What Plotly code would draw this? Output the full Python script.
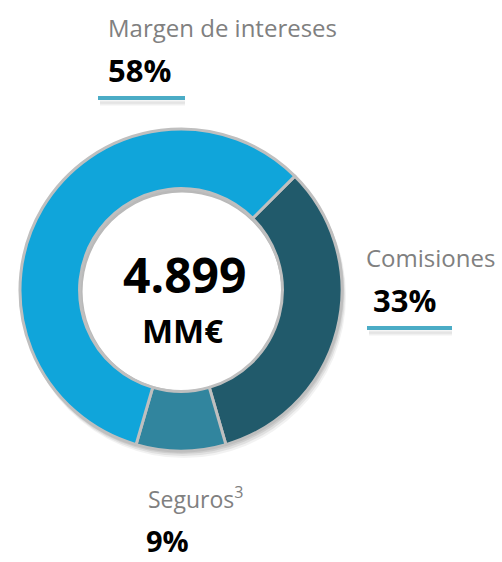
import plotly.graph_objects as go

# Data
categories = ["Comisiones", "Seguros", "Margen de intereses"]
values = [33, 9, 58]
colors = ["#215A6B", "#31859E", "#10A5DA"]
label_names = ["Margen de intereses", "Comisiones", "Seguros<sup>3</sup>"]
label_pcts = ["58%", "33%", "9%"]
total_value = "4.899"
total_unit = "MM€"

W, H = 502, 562
FONT = "Open Sans"

fig = go.Figure()

# donut geometry (pixels)
cx, cy, R = 181, 290, 161
HOLE = 0.63

def px_x(x):
    return x / W

def px_y(y):
    return 1 - y / H

fig.add_trace(go.Pie(
    labels=categories,
    values=values,
    sort=False,
    direction="clockwise",
    rotation=45,
    hole=HOLE,
    marker=dict(colors=colors, line=dict(color="#BFBFBF", width=3)),
    textinfo="none",
    hoverinfo="label+percent",
    showlegend=False,
    domain=dict(x=[px_x(cx - R), px_x(cx + R)], y=[px_y(cy + R), px_y(cy - R)]),
))

shapes = []
# soft shadow behind donut
for off, a in [(6, 0.05), (4, 0.07), (2, 0.08)]:
    shapes.append(dict(type="circle", xref="paper", yref="paper", layer="below",
                       x0=px_x(cx - R - 1 + off * 0.5), x1=px_x(cx + R + 1 + off * 0.5),
                       y0=px_y(cy + R + 1 + off), y1=px_y(cy - R - 1 + off),
                       line=dict(width=0), fillcolor=f"rgba(0,0,0,{a})"))
# white hole with a faint inner shadow
ri = R * HOLE
shapes.append(dict(type="circle", xref="paper", yref="paper", layer="below",
                   x0=px_x(cx - ri), x1=px_x(cx + ri), y0=px_y(cy + ri), y1=px_y(cy - ri),
                   line=dict(width=0), fillcolor="rgba(0,0,0,0.10)"))
shapes.append(dict(type="circle", xref="paper", yref="paper", layer="below",
                   x0=px_x(cx - ri + 3), x1=px_x(cx + ri - 1), y0=px_y(cy + ri - 1), y1=px_y(cy - ri + 4),
                   line=dict(width=0), fillcolor="white"))

# underlines with shadow
underlines = [(98, 185, 98), (367, 452, 328)]
for x0, x1, y in underlines:
    for off, a in [(6, 0.06), (4, 0.08)]:
        shapes.append(dict(type="line", xref="paper", yref="paper",
                           x0=px_x(x0 + 2), x1=px_x(x1), y0=px_y(y + off), y1=px_y(y + off),
                           line=dict(color=f"rgba(0,0,0,{a})", width=3)))
    shapes.append(dict(type="line", xref="paper", yref="paper",
                       x0=px_x(x0), x1=px_x(x1), y0=px_y(y), y1=px_y(y),
                       line=dict(color="#4BACC6", width=4)))

annotations = []
def add_text(text, x, y, size, color, bold=False, anchor="left"):
    annotations.append(dict(
        text=f"<b>{text}</b>" if bold else text,
        x=px_x(x), y=px_y(y), xref="paper", yref="paper",
        xanchor=anchor, yanchor="middle", showarrow=False,
        font=dict(family=FONT, size=size, color=color),
    ))

grey = "#808080"
add_text(label_names[0], 106, 27, 24, grey)
add_text(label_pcts[0], 106, 70, 31, "#000000", bold=True)
add_text(label_names[1], 364, 257, 24, grey)
add_text(label_pcts[1], 371, 300, 31, "#000000", bold=True)
add_text(label_names[2], 146, 498, 23, grey)
add_text(label_pcts[2], 144, 540, 29, "#000000", bold=True)
add_text(total_value, cx + 3, 275, 48, "#000000", bold=True, anchor="center")
add_text(total_unit, cx + 1, 330, 33, "#000000", bold=True, anchor="center")

fig.update_layout(
    width=W, height=H,
    margin=dict(l=0, r=0, t=0, b=0),
    paper_bgcolor="white", plot_bgcolor="white",
    shapes=shapes, annotations=annotations,
    xaxis=dict(visible=False), yaxis=dict(visible=False),
)

fig.write_html("out.html", config={"displayModeBar": False},
               post_script="document.body.style.margin='0';")
